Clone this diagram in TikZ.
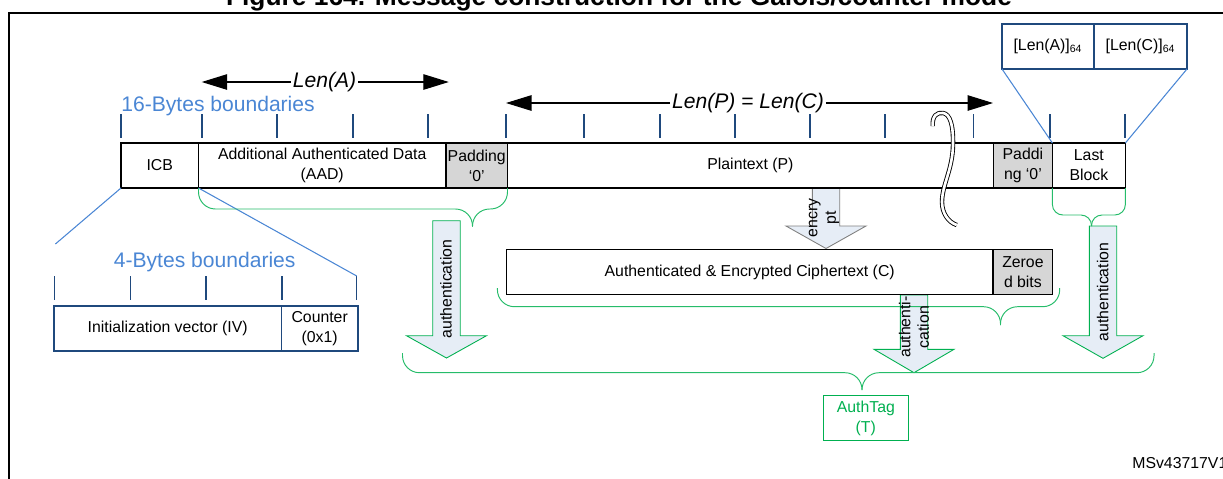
\documentclass[tikz,border=0pt]{standalone}
\usepackage{fontspec}
\setmainfont{Liberation Sans}
\usepackage{tikz}
\usetikzlibrary{arrows.meta,positioning,calc}
\definecolor{stdark}{RGB}{31,73,125}
\definecolor{stlight}{RGB}{74,134,212}
\definecolor{stgreen}{RGB}{0,176,80}
\definecolor{stfill}{RGB}{230,237,246}
\tikzset{
  blk/.style={draw, line width=0.8pt, minimum height=9mm, inner sep=1pt, outer sep=0pt, align=center, fill=white, font=\fontsize{9}{11.4}\selectfont},
  padblk/.style={blk, fill=black!16},
  bblk/.style={blk, draw=stdark},
  bnd/.style={draw=stdark, line width=0.7pt},
  lenarr/.style={-{Triangle[length=5.1mm,width=3.1mm]}, line width=0.6pt},
  zoomln/.style={draw=stlight, line width=0.6pt},
  brc/.style={draw=stgreen!85, line width=0.55pt, rounded corners=3.4mm},
  bigarr/.style={fill=stfill, line width=0.5pt},
  lbl/.style={font=\fontsize{12}{14}\selectfont, inner sep=0pt},
  rot/.style={rotate=90, align=center, inner sep=0pt, font=\fontsize{9}{10.5}\selectfont},
}
\begin{document}
\begin{tikzpicture}[x=0.02cm, y=-0.02cm]
\useasboundingbox (0,0) rectangle (1223,478);
\draw[line width=1.1pt] (8.7,495) |- (1240,12.7);
\node[font=\bfseries\fontsize{15}{18}\selectfont, anchor=base, inner sep=0pt] (title) at (619,5.5) {Figure 164. Message construction for the Galois/counter mode};
% 16-byte boundaries and lengths
\node[lbl, text=stlight, anchor=base west] (b16) at (121,111) {16-Bytes boundaries};
\foreach \x in {121,202,277,353,428,506,584,660,735,810,885,973.5,1050,1125}{\draw[bnd] (\x,114) -- (\x,138);}
\coordinate (lenal) at (201.7,82);
\coordinate (lenar) at (448.8,82);
\coordinate (lenpl) at (506,103);
\coordinate (lenpr) at (993,103);
\node[lbl, font=\fontsize{12}{14}\selectfont\itshape, inner sep=1pt] (lena) at (324.5,82) {Len(A)};
\node[lbl, font=\fontsize{12}{14}\selectfont\itshape, inner sep=1pt] (lenp) at (748,103) {Len(P) = Len(C)};
\draw[lenarr] (lena.west) -- (lenal);
\draw[lenarr] (lena.east) -- (lenar);
\draw[lenarr] (lenp.west) -- (lenpl);
\draw[lenarr] (lenp.east) -- (lenpr);
% block arrows
\foreach \x/\t/\h/\b/\c in {446.5/220.7/335.7/358/stgreen, 826/188/226/248.5/gray, 914/295/349.3/372.7/stgreen, 1103/226/335.7/358.3/stgreen}{
  \draw[bigarr, draw=\c] (\x-13.7,\t) -- (\x+13.7,\t) -- (\x+13.7,\h) -- (\x+40,\h) -- (\x,\b) -- (\x-40,\h) -- (\x-13.7,\h) -- cycle;}
% message blocks
\node[blk, minimum width=15.5mm] (icb) at (159.75,165.5) {ICB};
\node[blk, minimum width=49.5mm, right=0pt of icb] (aad) {Additional Authenticated Data\\(AAD)};
\node[padblk, minimum width=12.2mm, right=0pt of aad] (pad1) {Padding\\‘0’};
\node[blk, minimum width=97.2mm, right=0pt of pad1] (pt) {Plaintext (P)};
\node[padblk, minimum width=11.8mm, right=0pt of pt] (pad2) {Paddi\\ng ‘0’};
\node[blk, minimum width=14.6mm, right=0pt of pad2] (last) {Last\\Block};
\node[bblk, minimum width=18.4mm] (lena64) at (1048,46.5) {[Len(A)]\textsubscript{64}};
\node[bblk, minimum width=18.6mm, right=0pt of lena64] (lenc64) {[Len(C)]\textsubscript{64}};
\draw[zoomln] (lena64.south west) -- (last.north west);
\draw[zoomln] (lenc64.south east) -- (last.north east);
% 4-byte boundaries
\node[lbl, text=stlight, anchor=base west] (b4) at (113.5,267) {4-Bytes boundaries};
\foreach \x in {54.6,130.5,206,282,356.7}{\draw[bnd] (\x,276) -- (\x,300);}
\coordinate (ivl) at (55.4,244);
\coordinate (ivr) at (356.7,276);
\node[bblk, minimum width=45.5mm] (iv) at (167.7,328.4) {Initialization vector (IV)};
\node[bblk, minimum width=15.3mm, right=0pt of iv] (ctr) {Counter\\(0x1)};
\draw[zoomln] (icb.south west) -- (ivl);
\draw[zoomln] (icb.south east) -- (ivr);
% ciphertext
\node[blk, minimum width=97.4mm] (ct) at (749.7,272) {Authenticated \& Encrypted Ciphertext (C)};
\node[padblk, minimum width=11.9mm, right=0pt of ct] (zb) {Zeroe\\d bits};
% braces
\draw[brc] (aad.south west) |- (472.5,209) -- (472.5,226.7);
\draw[brc] (pad1.south east) |- (472.5,209) -- (472.5,226.7);
\draw[brc, rounded corners=2.1mm] (pad2.south east) |- (1091.5,215) -- (1091.5,226);
\draw[brc, rounded corners=2.1mm] (last.south east) |- (1091.5,215) -- (1091.5,226);
\draw[brc] (497.4,288) |- (1000.5,306.7) -- (1000.5,325);
\draw[brc] (1059.7,288) |- (1000.5,306.7) -- (1000.5,325);
\draw[brc] (402.5,353) |- (862,372.7) -- (862,390);
\draw[brc] (1154,353) |- (862,372.7) -- (862,390);
% arrow labels
\node[rot] (taut1) at (446,289) {authentication};
\node[rot] (tenc) at (824,218) {encry\\pt};
\node[rot] (taut2) at (914,327) {authenti-\\cation};
\node[rot] (taut3) at (1102.6,292) {authentication};
\node[blk, draw=stgreen, text=stgreen, minimum width=17mm] (tag) at (865.8,418.2) {AuthTag\\(T)};
% break mark
\draw[double, double distance=1.5pt, line width=0.5pt] (932.7,126) .. controls (932,116) and (937,112) .. (943,113) .. controls (950,114) and (953.5,125) .. (953,145) .. controls (952.5,170) and (942,185) .. (942,202) .. controls (942,213) and (948,222) .. (956.7,225);
\node[font=\fontsize{9}{11}\selectfont, anchor=base west, inner sep=0pt] (msv) at (1132,468) {MSv43717V1};
\end{tikzpicture}
\end{document}
